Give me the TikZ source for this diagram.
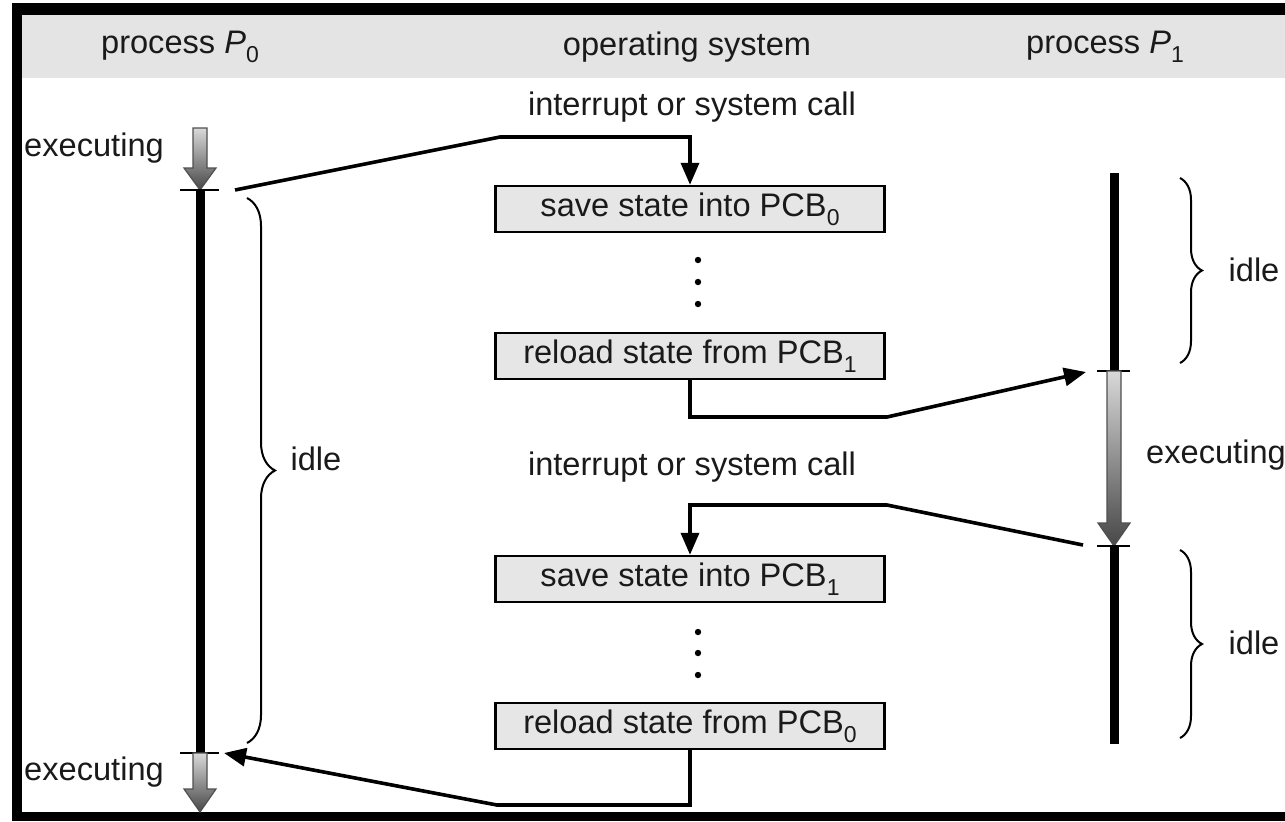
\documentclass[tikz,border=0pt]{standalone}
\usepackage{fontspec}
\setmainfont{Liberation Sans}
\usetikzlibrary{arrows.meta,decorations.pathreplacing,shadings}
\definecolor{hdr}{HTML}{E4E4E4}
\definecolor{boxfill}{HTML}{E6E6E6}
\definecolor{arrowedge}{HTML}{505050}
\definecolor{txt}{HTML}{1A1A1A}
\newcommand{\lowsub}[1]{\raisebox{-0.5ex}{\fontsize{11.5}{12}\selectfont #1}}
\begin{document}
\begin{tikzpicture}[x=0.5pt,y=-0.5pt,
  lbl/.style={font=\fontsize{16.3}{19}\selectfont, text=txt, inner sep=0pt},
  osbox/.style={draw=black, line width=1.2pt, fill=boxfill, minimum width=194.5pt, minimum height=23pt, inner sep=0pt, font=\fontsize{16.3}{19}\selectfont, text=txt},
  conn/.style={line width=1.8pt, -{Triangle[length=11pt,width=9pt]}},
  tickmark/.style={line width=1pt},
  bar/.style={line width=4.5pt},
  brc/.style={decorate, decoration={brace, amplitude=#1}, line width=1pt},
  execarrow/.style={top color=black!15, bottom color=black!72, draw=arrowedge, line width=0.6pt}
]
\useasboundingbox (0,0) rectangle (1285,821);
% frame and header
\fill[white] (0,0) rectangle (1285,821);
\fill[hdr] (22,15) rectangle (1285,78);
\fill[black] (12,3) rectangle (1285,15);
\fill[black] (12,3) rectangle (22,821);
\fill[black] (12,812) rectangle (1285,821);

% header labels
\node[lbl] (hp0) at (180,47) {process \textit{P}\lowsub{0}};
\node[lbl] (hos) at (687,47) {operating system};
\node[lbl] (hp1) at (1105,47) {process \textit{P}\lowsub{1}};

% OS column
\node[lbl] (irq1) at (692,107) {interrupt or system call};
\node[osbox] (save0) at (690,209) {save state into PCB\lowsub{0}};
\node[osbox] (load1) at (690,356) {reload state from PCB\lowsub{1}};
\node[lbl] (irq2) at (692,467) {interrupt or system call};
\node[osbox] (save1) at (690,579) {save state into PCB\lowsub{1}};
\node[osbox] (load0) at (690,726) {reload state from PCB\lowsub{0}};
\foreach \yy in {260,282,304,632,653,675} \fill (698,\yy) circle[radius=1.6pt];

% process P0 timeline
\shade[execarrow] (193,128) -- (207,128) -- (207,168) -- (216,168) -- (200,190) -- (184,168) -- (193,168) -- cycle;
\draw[bar] (200,190) -- (200,753);
\draw[tickmark] (180,190) -- (219,190);
\draw[tickmark] (180,753) -- (219,753);
\shade[execarrow] (193,753) -- (207,753) -- (207,789) -- (216,789) -- (200,812) -- (184,789) -- (193,789) -- cycle;
\node[lbl] (ex0a) at (94,148) {executing};
\node[lbl] (ex0b) at (94,772) {executing};
\draw[brc=14pt] (247,198) -- (247,743);
\node[lbl] (idle0) at (316,459) {idle};

% process P1 timeline
\draw[bar] (1114,173) -- (1114,371);
\draw[tickmark] (1097,371) -- (1130,371);
\shade[execarrow] (1107,371) -- (1121,371) -- (1121,523) -- (1130,523) -- (1114,546) -- (1098,523) -- (1107,523) -- cycle;
\draw[tickmark] (1097,546) -- (1130,546);
\draw[bar] (1114,546) -- (1114,744);
\node[lbl] (ex1) at (1216,455) {executing};
\draw[brc=11pt] (1180,178) -- (1180,363);
\node[lbl] (idle1a) at (1254,270) {idle};
\draw[brc=11pt] (1180,550) -- (1180,738);
\node[lbl] (idle1b) at (1254,643) {idle};

% connectors
\coordinate (c1s) at (235,190);
\coordinate (c1m) at (500,137);
\coordinate (c2m) at (887,417);
\coordinate (c2e) at (1086,372);
\coordinate (c3s) at (1083,545);
\coordinate (c3m) at (887,505);
\coordinate (c4m) at (497,805);
\coordinate (c4e) at (224,753);
\draw[conn] (c1s) -- (c1m) -| (save0.north);
\draw[conn] (load1.south) |- (c2m) -- (c2e);
\draw[conn] (c3s) -- (c3m) -| (save1.north);
\draw[conn] (load0.south) |- (c4m) -- (c4e);
\end{tikzpicture}
\end{document}
